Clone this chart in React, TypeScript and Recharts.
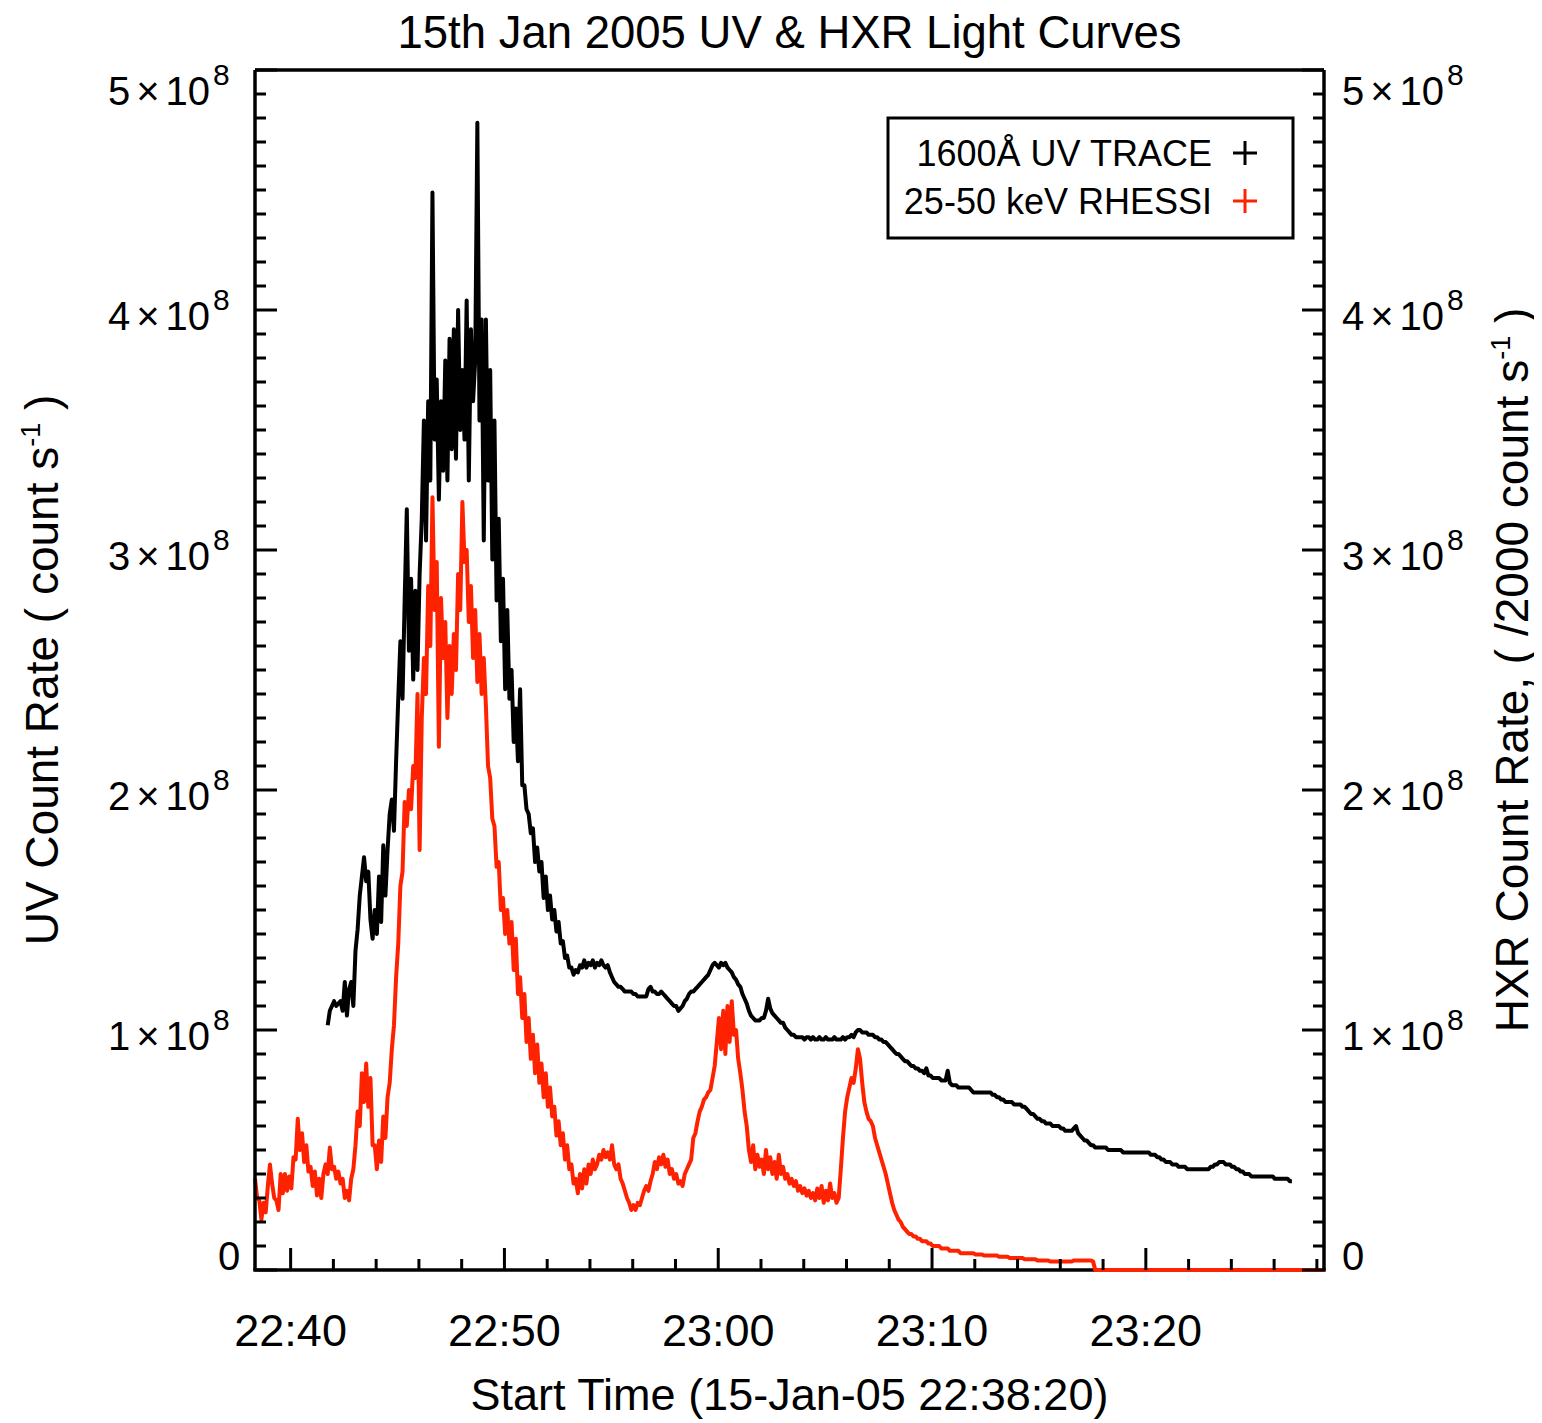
import React from 'react';
import { ComposedChart, Line, XAxis, YAxis } from 'recharts';

// sampling grid of both light curves, minutes after 22:38:20
const SAMPLE_STEP = 0.1;
const HXR_START = 0;
const UV_START = 3.4;

// 25-50 keV RHESSI, in units of 1e8 (/2000 count s^-1)
const hxrRate = [
  0.38, 0.30, 0.29, 0.21, 0.28, 0.24, 0.35, 0.44, 0.36, 0.30,
  0.29, 0.25, 0.40, 0.32, 0.40, 0.33, 0.39, 0.34, 0.47, 0.46,
  0.63, 0.50, 0.57, 0.45, 0.52, 0.41, 0.43, 0.35, 0.41, 0.31,
  0.38, 0.30, 0.40, 0.44, 0.40, 0.51, 0.42, 0.43, 0.38, 0.41,
  0.36, 0.38, 0.30, 0.33, 0.29, 0.38, 0.42, 0.52, 0.66, 0.60,
  0.82, 0.70, 0.86, 0.68, 0.80, 0.52, 0.52, 0.42, 0.54, 0.45,
  0.64, 0.55, 0.72, 0.78, 0.92, 1.02, 1.22, 1.36, 1.60, 1.66,
  1.95, 1.85, 2.00, 1.92, 2.10, 2.05, 2.40, 1.75, 2.30, 2.55,
  2.40, 2.85, 2.60, 3.22, 2.75, 2.95, 2.18, 2.80, 2.55, 2.70,
  2.30, 2.60, 2.40, 2.65, 2.50, 2.90, 2.75, 3.20, 2.95, 3.00,
  2.70, 2.85, 2.55, 2.75, 2.45, 2.65, 2.40, 2.55, 2.35, 2.10,
  2.05, 1.88, 1.85, 1.68, 1.70, 1.50, 1.55, 1.40, 1.50, 1.36,
  1.45, 1.25, 1.38, 1.15, 1.22, 1.05, 1.15, 0.95, 1.05, 0.88,
  0.98, 0.82, 0.94, 0.78, 0.86, 0.72, 0.82, 0.68, 0.76, 0.64,
  0.68, 0.56, 0.62, 0.52, 0.57, 0.46, 0.52, 0.42, 0.44, 0.36,
  0.38, 0.32, 0.40, 0.34, 0.42, 0.36, 0.44, 0.40, 0.46, 0.42,
  0.44, 0.48, 0.46, 0.50, 0.47, 0.49, 0.46, 0.52, 0.44, 0.42,
  0.44, 0.38, 0.36, 0.33, 0.30, 0.28, 0.25, 0.27, 0.25, 0.28,
  0.27, 0.30, 0.33, 0.35, 0.33, 0.37, 0.40, 0.45, 0.42, 0.47,
  0.44, 0.48, 0.43, 0.46, 0.40, 0.42, 0.38, 0.40, 0.36, 0.37,
  0.35, 0.40, 0.42, 0.44, 0.46, 0.55, 0.57, 0.62, 0.66, 0.68,
  0.71, 0.72, 0.74, 0.75, 0.80, 0.85, 0.95, 1.05, 0.92, 1.08,
  0.90, 1.10, 0.95, 1.12, 0.98, 1.00, 0.88, 0.82, 0.75, 0.66,
  0.60, 0.50, 0.45, 0.52, 0.42, 0.48, 0.43, 0.46, 0.40, 0.50,
  0.42, 0.47, 0.40, 0.45, 0.38, 0.48, 0.40, 0.43, 0.38, 0.40,
  0.36, 0.38, 0.35, 0.37, 0.33, 0.35, 0.32, 0.34, 0.31, 0.33,
  0.30, 0.32, 0.29, 0.34, 0.30, 0.35, 0.28, 0.33, 0.29, 0.36,
  0.30, 0.32, 0.28, 0.30, 0.42, 0.55, 0.66, 0.72, 0.76, 0.80,
  0.78, 0.84, 0.92, 0.88, 0.78, 0.70, 0.66, 0.63, 0.62, 0.60,
  0.55, 0.52, 0.49, 0.46, 0.43, 0.40, 0.36, 0.32, 0.28, 0.25,
  0.23, 0.21, 0.20, 0.18, 0.17, 0.16, 0.15, 0.15, 0.14, 0.14,
  0.13, 0.13, 0.12, 0.12, 0.12, 0.11, 0.11, 0.10, 0.10, 0.10,
  0.10, 0.09, 0.09, 0.09, 0.09, 0.08, 0.08, 0.08, 0.08, 0.08,
  0.07, 0.07, 0.07, 0.07, 0.07, 0.07, 0.07, 0.065, 0.065, 0.065,
  0.065, 0.06, 0.06, 0.06, 0.06, 0.06, 0.06, 0.06, 0.055, 0.055,
  0.055, 0.055, 0.055, 0.05, 0.05, 0.05, 0.05, 0.05, 0.05, 0.05,
  0.045, 0.045, 0.045, 0.045, 0.045, 0.045, 0.04, 0.04, 0.04, 0.04,
  0.04, 0.04, 0.035, 0.035, 0.035, 0.035, 0.035, 0.035, 0.035, 0.035,
  0.035, 0.035, 0.035, 0.04, 0.04, 0.04, 0.04, 0.04, 0.04, 0.04,
  0.04, 0.04, 0.035,
  0, 0, 0, 0, 0, 0, 0, 0, 0, 0, 0, 0,
  0, 0, 0, 0, 0, 0, 0, 0, 0, 0, 0, 0,
  0, 0, 0, 0, 0, 0, 0, 0, 0, 0, 0, 0,
  0, 0, 0, 0, 0, 0, 0, 0, 0, 0, 0, 0,
  0, 0, 0, 0, 0, 0, 0, 0, 0, 0, 0, 0,
  0, 0, 0, 0, 0, 0, 0, 0, 0, 0, 0, 0,
  0, 0, 0, 0, 0, 0, 0, 0, 0, 0, 0, 0,
  0, 0, 0, 0, 0, 0, 0, 0, 0, 0, 0, 0,
  0, 0, 0, 0, 0, 0, 0, 0, 0, 0, 0, 0,
];

// 1600A UV TRACE, in units of 1e8 count s^-1
const uvRate = [
  1.02, 1.08, 1.10, 1.12, 1.10, 1.11,
  1.12, 1.08, 1.20, 1.06, 1.17, 1.20, 1.10, 1.33, 1.42, 1.56,
  1.64, 1.72, 1.62, 1.66, 1.46, 1.38, 1.50, 1.40, 1.64, 1.45,
  1.77, 1.56, 1.75, 1.90, 1.96, 1.83, 2.12, 2.38, 2.62, 2.38,
  2.79, 3.17, 2.58, 2.88, 2.46, 2.83, 2.50, 2.90, 3.13, 3.54,
  3.04, 3.62, 3.29, 4.49, 3.46, 3.71, 3.21, 3.62, 3.33, 3.79,
  3.29, 3.88, 3.42, 3.92, 3.38, 4.00, 3.50, 3.75, 3.46, 4.04,
  3.29, 3.92, 3.62, 3.79, 4.78, 3.54, 3.96, 3.04, 3.96, 3.29,
  3.75, 2.96, 3.54, 2.79, 3.13, 2.62, 2.88, 2.42, 2.75, 2.38,
  2.50, 2.20, 2.34, 2.12, 2.42, 2.02, 2.02, 1.92, 1.90, 1.82,
  1.84, 1.70, 1.76, 1.66, 1.70, 1.55, 1.64, 1.50, 1.56, 1.46,
  1.50, 1.41, 1.45, 1.36, 1.37, 1.30, 1.31, 1.26, 1.26, 1.23,
  1.25, 1.24, 1.27, 1.26, 1.29, 1.26, 1.28, 1.27, 1.29, 1.26,
  1.28, 1.27, 1.29, 1.27, 1.26, 1.27, 1.24, 1.22, 1.20, 1.19,
  1.18, 1.18, 1.17, 1.16, 1.16, 1.16, 1.16, 1.15, 1.15, 1.14,
  1.14, 1.14, 1.14, 1.14, 1.17, 1.18, 1.16, 1.16, 1.15, 1.15,
  1.16, 1.15, 1.14, 1.13, 1.12, 1.11, 1.10, 1.10, 1.08, 1.09,
  1.10, 1.12, 1.13, 1.15, 1.16, 1.16, 1.17, 1.18, 1.19, 1.20,
  1.21, 1.22, 1.23, 1.25, 1.27, 1.28, 1.27, 1.26, 1.28, 1.27,
  1.28, 1.26, 1.25, 1.24, 1.22, 1.21, 1.19, 1.18, 1.15, 1.13,
  1.11, 1.08, 1.06, 1.05, 1.04, 1.04, 1.04, 1.05, 1.05, 1.08,
  1.13, 1.09, 1.07, 1.06, 1.05, 1.04, 1.03, 1.03, 1.01, 1.00,
  0.99, 0.98, 0.98, 0.97, 0.97, 0.97, 0.97, 0.96, 0.97, 0.97,
  0.96, 0.97, 0.96, 0.96, 0.97, 0.96, 0.96, 0.97, 0.96, 0.96,
  0.96, 0.97, 0.96, 0.96, 0.96, 0.97, 0.96, 0.97, 0.97, 0.98,
  0.97, 0.99, 1.00, 1.00, 0.99, 0.99, 0.99, 0.98, 0.98, 0.98,
  0.97, 0.97, 0.96, 0.96, 0.95, 0.95, 0.94, 0.93, 0.92, 0.91,
  0.90, 0.90, 0.89, 0.88, 0.87, 0.87, 0.86, 0.85, 0.85, 0.84,
  0.84, 0.83, 0.83, 0.82, 0.84, 0.81, 0.81, 0.80, 0.80, 0.80,
  0.80, 0.79, 0.79, 0.79, 0.83, 0.78, 0.77, 0.77, 0.77, 0.76,
  0.76, 0.76, 0.76, 0.76, 0.76, 0.75, 0.74, 0.74, 0.74, 0.74,
  0.74, 0.74, 0.74, 0.74, 0.74, 0.73, 0.73, 0.72, 0.72, 0.71,
  0.71, 0.70, 0.70, 0.70, 0.70, 0.69, 0.69, 0.69, 0.69, 0.68,
  0.68, 0.67, 0.66, 0.65, 0.65, 0.64, 0.63, 0.63, 0.62, 0.62,
  0.61, 0.61, 0.61, 0.60, 0.60, 0.60, 0.60, 0.59, 0.59, 0.58,
  0.58, 0.58, 0.58, 0.59, 0.60, 0.57, 0.56, 0.55, 0.54, 0.54,
  0.53, 0.52, 0.52, 0.51, 0.51, 0.51, 0.51, 0.51, 0.51, 0.50,
  0.50, 0.50, 0.50, 0.50, 0.50, 0.50, 0.49, 0.49, 0.49, 0.49,
  0.49, 0.49, 0.49, 0.49, 0.49, 0.49, 0.49, 0.49, 0.49, 0.48,
  0.48, 0.48, 0.47, 0.47, 0.46, 0.46, 0.45, 0.45, 0.45, 0.44,
  0.44, 0.44, 0.43, 0.43, 0.43, 0.43, 0.42, 0.42, 0.42, 0.42,
  0.42, 0.42, 0.42, 0.42, 0.42, 0.42, 0.42, 0.43, 0.43, 0.44,
  0.44, 0.45, 0.45, 0.45, 0.44, 0.44, 0.44, 0.43, 0.43, 0.42,
  0.42, 0.41, 0.41, 0.40, 0.40, 0.40, 0.39, 0.39, 0.39, 0.39,
  0.39, 0.39, 0.39, 0.39, 0.39, 0.39, 0.39, 0.38, 0.38, 0.38,
  0.38, 0.38, 0.38, 0.38, 0.37, 0.37,
];

const timeLabels = ['22:40', '22:50', '23:00', '23:10', '23:20'];
const FIRST_LABEL_MIN = 5 / 3; // 22:40 is 1m40s after 22:38:20
const rateMajor = [0, 1, 2, 3, 4, 5];

const hxrData = hxrRate.map((v, i) => ({ t: +(HXR_START + i * SAMPLE_STEP).toFixed(2), hxr: v }));
const uvData = uvRate.map((v, i) => ({ t: +(UV_START + i * SAMPLE_STEP).toFixed(2), uv: v }));

// minor ticks every 2 min, labelled every 10 min
const timeTicks = Array.from({ length: 25 }, (_, k) => FIRST_LABEL_MIN + 2 * k);
const rateTicks = Array.from({ length: 51 }, (_, k) => k / 10);

const W = 1534;
const H = 1415;
const MARGIN = { top: 52, right: 118, bottom: 53, left: 147 };
const PLOT_LEFT = 247;
const PLOT_RIGHT = 1316;
const PLOT_BOTTOM = 1262;
const FONT = '"Liberation Sans", Arial, Helvetica, sans-serif';
const RED = '#ff2200';
const AXIS = { stroke: '#000', strokeWidth: 3.5 };
const MAJOR = 22;
const MINOR = 11;

const timeIndex = (v: number) => Math.round((v - FIRST_LABEL_MIN) / 2);
const isMajorRate = (v: number) => rateMajor.some((m) => Math.abs(v - m) < 1e-6);

const RateLabel = ({ x, y, v }: { x: number; y: number; v: number }) => {
  if (v === 0) {
    return (
      <text x={x} y={y} fontSize={40} fontFamily={FONT} fill="#000">0</text>
    );
  }
  return (
    <text x={x} y={y} fontSize={40} fontFamily={FONT} fill="#000">
      {v}
      <tspan dx={6}>×</tspan>
      <tspan dx={6}>10</tspan>
      <tspan dx={3} dy={-20} fontSize={30}>8</tspan>
    </text>
  );
};

const labelDy = (v: number) => (v === 5 ? 35 : v === 0 ? 0 : 20);

const BottomTick = (props: any) => {
  const { x, y, payload } = props;
  const k = timeIndex(payload.value);
  const major = k % 5 === 0;
  return (
    <g>
      <line x1={x} x2={x} y1={y} y2={y - (major ? MAJOR : MINOR)} stroke="#000" strokeWidth={3} />
      {major && (
        <text x={x} y={y + 76} textAnchor="middle" fontSize={45} fontFamily={FONT} fill="#000">
          {timeLabels[k / 5]}
        </text>
      )}
    </g>
  );
};

const TopTick = (props: any) => {
  const { x, y, payload } = props;
  const major = timeIndex(payload.value) % 5 === 0;
  return <line x1={x} x2={x} y1={y} y2={y + (major ? MAJOR : MINOR)} stroke="#000" strokeWidth={3} />;
};

const LeftTick = (props: any) => {
  const { x, y, payload } = props;
  const v = payload.value;
  const major = isMajorRate(v);
  const n = Math.round(v);
  return (
    <g>
      <line x1={x} x2={x + (major ? MAJOR : MINOR)} y1={y} y2={y} stroke="#000" strokeWidth={3} />
      {major && <RateLabel x={n === 0 ? x - 37 : x - 147} y={y + labelDy(n)} v={n} />}
    </g>
  );
};

const RightTick = (props: any) => {
  const { x, y, payload } = props;
  const v = payload.value;
  const major = isMajorRate(v);
  const n = Math.round(v);
  return (
    <g>
      <line x1={x} x2={x - (major ? MAJOR : MINOR)} y1={y} y2={y} stroke="#000" strokeWidth={3} />
      {major && <RateLabel x={x + 18} y={y + labelDy(n)} v={n} />}
    </g>
  );
};

const Plus = ({ x, y, color }: { x: number; y: number; color: string }) => (
  <g stroke={color} strokeWidth={3}>
    <line x1={x - 12} x2={x + 12} y1={y} y2={y} />
    <line x1={x} x2={x} y1={y - 12} y2={y + 12} />
  </g>
);

export default function App() {
  return (
    <div style={{ position: 'relative', width: W, height: H, background: '#fff' }}>
      {/* bottom frame line sits under the chart so the red zero level covers it */}
      <svg width={W} height={H} style={{ position: 'absolute', left: 0, top: 0 }}>
        <line x1={PLOT_LEFT - 1.75} x2={PLOT_RIGHT + 1.75} y1={PLOT_BOTTOM} y2={PLOT_BOTTOM} stroke="#000" strokeWidth={3.5} />
      </svg>
      <div style={{ position: 'absolute', left: 0, top: 0 }}>
        <ComposedChart width={W} height={H} margin={MARGIN}>
          <XAxis
            xAxisId="bottom"
            type="number"
            dataKey="t"
            domain={[0, 50]}
            ticks={timeTicks}
            interval={0}
            tick={BottomTick}
            tickLine={false}
            tickSize={0}
            tickMargin={0}
            axisLine={false}
            height={100}
          />
          <XAxis
            xAxisId="top"
            orientation="top"
            type="number"
            dataKey="t"
            domain={[0, 50]}
            ticks={timeTicks}
            interval={0}
            tick={TopTick}
            tickLine={false}
            tickSize={0}
            tickMargin={0}
            axisLine={AXIS}
            height={10}
          />
          <YAxis
            yAxisId="left"
            type="number"
            domain={[0, 5]}
            ticks={rateTicks}
            interval={0}
            tick={LeftTick}
            tickLine={false}
            tickSize={0}
            tickMargin={0}
            axisLine={AXIS}
            width={100}
          />
          <YAxis
            yAxisId="right"
            orientation="right"
            type="number"
            domain={[0, 5]}
            ticks={rateTicks}
            interval={0}
            tick={RightTick}
            tickLine={false}
            tickSize={0}
            tickMargin={0}
            axisLine={AXIS}
            width={100}
          />
          <Line
            xAxisId="bottom"
            yAxisId="left"
            data={uvData}
            dataKey="uv"
            type="linear"
            stroke="#000"
            strokeWidth={4}
            strokeLinejoin="round"
            dot={false}
            isAnimationActive={false}
          />
          <Line
            xAxisId="bottom"
            yAxisId="right"
            data={hxrData}
            dataKey="hxr"
            type="linear"
            stroke={RED}
            strokeWidth={4}
            strokeLinejoin="round"
            dot={false}
            isAnimationActive={false}
          />
        </ComposedChart>
      </div>
      <svg
        width={W}
        height={H}
        style={{ position: 'absolute', left: 0, top: 0, pointerEvents: 'none', overflow: 'visible' }}
        fontFamily={FONT}
      >
        <text x={781.5} y={40} textAnchor="middle" fontSize={45.5} fill="#000">
          15th Jan 2005 UV &amp; HXR Light Curves
        </text>
        <text x={781.5} y={1402} textAnchor="middle" fontSize={45} fill="#000">
          Start Time (15-Jan-05 22:38:20)
        </text>
        <g transform="translate(50, 662) rotate(-90)">
          <text x={0} y={0} textAnchor="middle" fontSize={46} fill="#000">
            UV Count Rate ( count s<tspan dy={-18} fontSize={27}>-1</tspan>
            <tspan dy={18}> )</tspan>
          </text>
        </g>
        <g transform="translate(1520, 662) rotate(-90)">
          <text x={0} y={0} textAnchor="middle" fontSize={46} fill="#000">
            HXR Count Rate, ( /2000 count s<tspan dy={-18} fontSize={27}>-1</tspan>
            <tspan dy={18}> )</tspan>
          </text>
        </g>
        <rect x={880} y={110} width={405} height={120} fill="#fff" stroke="#000" strokeWidth={3} />
        <text x={1204} y={158} textAnchor="end" fontSize={36} fill="#000">1600Å UV TRACE</text>
        <Plus x={1237} y={145} color="#000" />
        <text x={1204} y={206} textAnchor="end" fontSize={36} fill="#000">25-50 keV RHESSI</text>
        <Plus x={1237} y={193} color={RED} />
      </svg>
    </div>
  );
}
